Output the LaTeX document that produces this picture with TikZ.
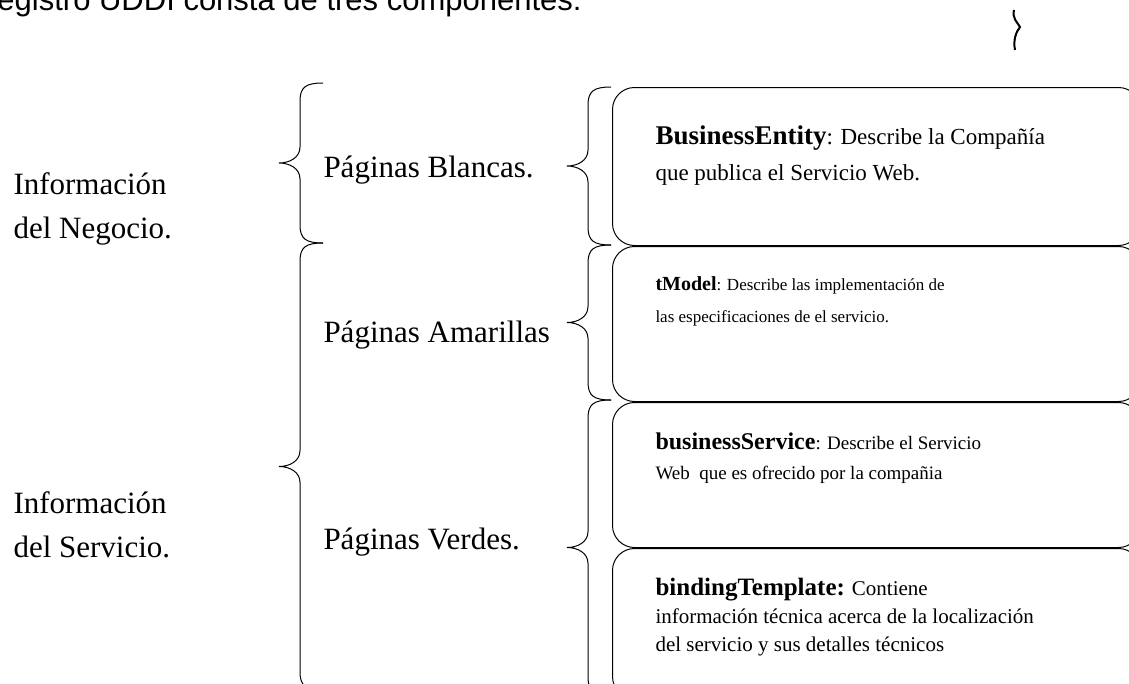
\documentclass[tikz,border=0pt]{standalone}
\usepackage{fontspec}
\setmainfont{Liberation Serif}
\newfontfamily\arial{Liberation Sans}
\usetikzlibrary{positioning}
\tikzset{
  caja/.style={draw,rounded corners=22pt,minimum width=528pt,anchor=north west,inner sep=0pt},
  etiqueta/.style={font=\fontsize{31}{44}\selectfont,align=left,inner sep=0pt,anchor=west},
  texto/.style={align=left,inner sep=0pt,anchor=north west}
}
\begin{document}
\begin{tikzpicture}[x=1pt,y=-1pt,line width=1pt]
\useasboundingbox (0,0) rectangle (1129,683);
\begin{scope}
\clip (0,0) rectangle (1129,683);
\node[inner sep=0pt,anchor=base west,font=\arial\fontsize{31}{36}\selectfont] (titulo) at (-3,10) {egistro UDDI consta de tres componentes:};
\draw[line width=2pt] (1014,10) .. controls (1012,18) and (1017,22) .. (1020,27) .. controls (1016,32) and (1013,40) .. (1015,50);
% cajas
\node[caja,minimum height=158pt] (c1) at (612,87) {};
\node[caja,minimum height=155pt,below=0pt of c1] (c2) {};
\node[caja,minimum height=145pt,below=0pt of c2] (c3) {};
\node[caja,minimum height=150pt,below=0pt of c3] (c4) {};
\node[texto,font=\fontsize{23}{36}\selectfont,below right=38pt and 43pt of c1.north west] (t1)
  {{\bfseries\fontsize{27}{36}\selectfont BusinessEntity}: Describe la Compañía\\que publica el Servicio Web.};
\node[texto,font=\fontsize{17}{32}\selectfont,below right=30pt and 43pt of c2.north west] (t2)
  {{\bfseries\fontsize{20}{32}\selectfont tModel}: Describe las implementación de\\las especificaciones de el servicio.};
\node[texto,font=\fontsize{19}{30}\selectfont,below right=30pt and 43pt of c3.north west] (t3)
  {{\bfseries\fontsize{24}{30}\selectfont businessService}: Describe el Servicio\\Web\ \ que es ofrecido por la compañia};
\node[texto,font=\fontsize{21}{28}\selectfont,below right=30pt and 43pt of c4.north west] (t4)
  {{\bfseries\fontsize{25}{28}\selectfont bindingTemplate:} Contiene\\información técnica acerca de la localización\\del servicio y sus detalles técnicos};
% etiquetas
\node[etiqueta] (negocio) at (13,209) {Información\\del Negocio.};
\node[etiqueta] (servicio) at (13,525) {Información\\del Servicio.};
\node[etiqueta] (blancas) at (323,170) {Páginas Blancas.};
\node[etiqueta] (amarillas) at (323,335) {Páginas Amarillas};
\node[etiqueta] (verdes) at (323,542) {Páginas Verdes.};
% llaves
\foreach \t/\a/\b in {567/87/245,567/245/400,567/400/695,279/83/243,279/243/690}
  \draw (\t+44,\a) .. controls (\t+27,\a) and (\t+21,\a+4) .. (\t+21,\a+18)
    -- (\t+21,{(\a+\b)/2-16}) .. controls (\t+21,{(\a+\b)/2-5}) and (\t+10,{(\a+\b)/2}) .. (\t,{(\a+\b)/2})
    .. controls (\t+10,{(\a+\b)/2}) and (\t+21,{(\a+\b)/2+5}) .. (\t+21,{(\a+\b)/2+16})
    -- (\t+21,\b-18) .. controls (\t+21,\b-4) and (\t+27,\b) .. (\t+44,\b);
\end{scope}
\end{tikzpicture}
\end{document}
